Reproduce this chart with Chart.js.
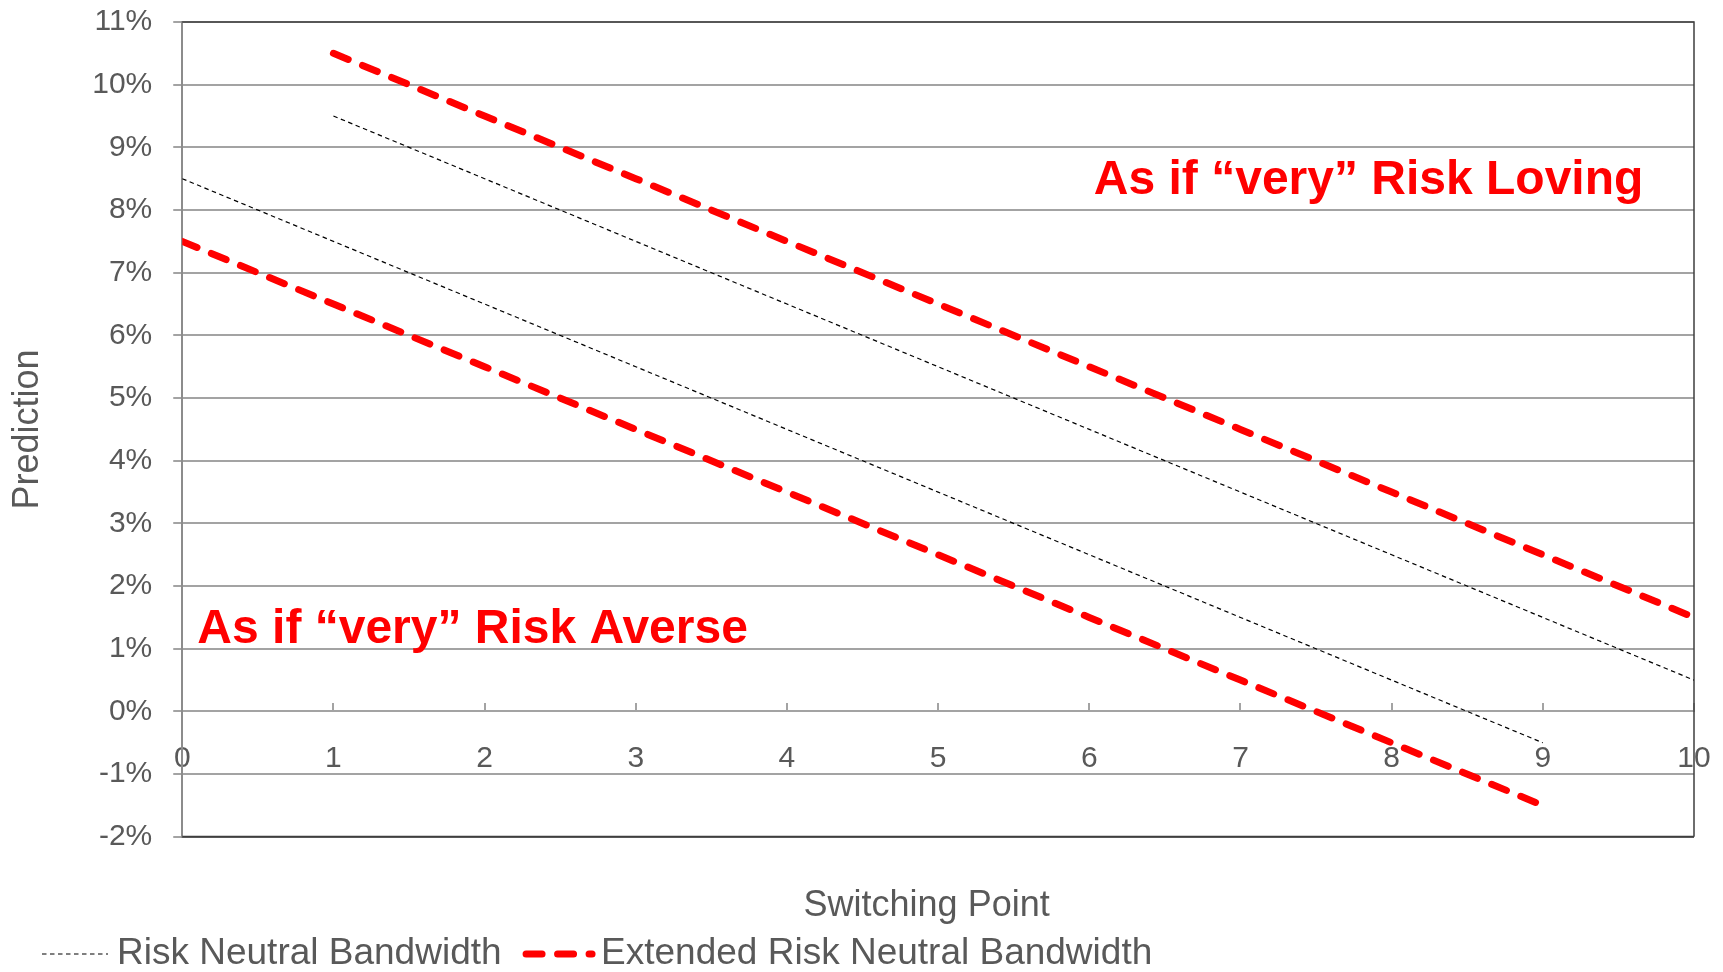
<!DOCTYPE html>
<html>
<head>
<meta charset="utf-8">
<script src="https://cdn.jsdelivr.net/npm/chart.js@4.4.1/dist/chart.umd.min.js"></script>
<style>
  html, body { margin: 0; padding: 0; background: #ffffff; }
  canvas { display: block; }
</style>
</head>
<body>
<canvas id="chart" width="1723" height="972"></canvas>
<script>
// Switching points on the x axis
const switchPoints = [0, 1, 2, 3, 4, 5, 6, 7, 8, 9, 10];

// Risk neutral band (prediction in %)
const neutralLowX  = [0, 1, 2, 3, 4, 5, 6, 7, 8, 9];
const neutralLow   = [8.5, 7.5, 6.5, 5.5, 4.5, 3.5, 2.5, 1.5, 0.5, -0.5];
const neutralHighX = [1, 2, 3, 4, 5, 6, 7, 8, 9, 10];
const neutralHigh  = [9.5, 8.5, 7.5, 6.5, 5.5, 4.5, 3.5, 2.5, 1.5, 0.5];

// Extended risk neutral band (prediction in %)
const extendedLowX  = [0, 1, 2, 3, 4, 5, 6, 7, 8, 9];
const extendedLow   = [7.5, 6.5, 5.5, 4.5, 3.5, 2.5, 1.5, 0.5, -0.5, -1.5];
const extendedHighX = [1, 2, 3, 4, 5, 6, 7, 8, 9, 10];
const extendedHigh  = [10.5, 9.5, 8.5, 7.5, 6.5, 5.5, 4.5, 3.5, 2.5, 1.5];

// Tick values for the prediction axis (%)
const yTickValues = [-2, -1, 0, 1, 2, 3, 4, 5, 6, 7, 8, 9, 10, 11];

const seriesNames = ['Risk Neutral Bandwidth', 'Extended Risk Neutral Bandwidth'];
const regionLabels = ['As if \u201Cvery\u201D Risk Loving', 'As if \u201Cvery\u201D Risk Averse'];
// Where each region label starts, in data units [switching point, prediction %]
const regionAnchors = [[6.03, 8.25], [0.1, 1.1]];

const FONT = "'Liberation Sans', Arial, Helvetica, sans-serif";
const TEXT = '#595959';
const GRID = '#a3a3a3';

const toPoints = (xs, ys) => xs.map((x, i) => ({ x: x, y: ys[i] }));

const thinStyle = {
  borderColor: '#000000', borderWidth: 1.2, borderDash: [4.5, 3.5], borderCapStyle: 'butt'
};
const thickStyle = {
  borderColor: '#ff0000', borderWidth: 7, borderDash: [16, 15.5], borderCapStyle: 'round'
};

// Dark frame on top, right and bottom of the plot area
const plotFrame = {
  id: 'plotFrame',
  afterLayout(chart) {
    // centre the x title over the plot plus the y-axis gutter
    chart.scales.xTitle.left -= 23;
  },
  beforeDatasetsDraw(chart) {
    const { ctx, chartArea: a } = chart;
    ctx.save();
    ctx.strokeStyle = '#3f3f3f';
    ctx.lineWidth = 1.5;
    ctx.beginPath();
    ctx.moveTo(a.left, a.top);
    ctx.lineTo(a.right, a.top);
    ctx.lineTo(a.right, a.bottom);
    ctx.stroke();
    ctx.lineWidth = 2;
    ctx.beginPath();
    ctx.moveTo(a.left, a.bottom);
    ctx.lineTo(a.right, a.bottom);
    ctx.stroke();
    ctx.restore();
  }
};

// Bold red labels naming the two regions
const regionText = {
  id: 'regionText',
  afterDatasetsDraw(chart) {
    const { ctx, scales } = chart;
    ctx.save();
    ctx.font = 'bold 48px ' + FONT;
    ctx.fillStyle = '#ff0000';
    ctx.textAlign = 'left';
    ctx.textBaseline = 'alphabetic';
    regionLabels.forEach((txt, i) => {
      const [vx, vy] = regionAnchors[i];
      ctx.fillText(txt, scales.x.getPixelForValue(vx), scales.y.getPixelForValue(vy));
    });
    ctx.restore();
  }
};

// Legend row under the axis title: one entry per series name
const bandLegend = {
  id: 'bandLegend',
  afterDraw(chart) {
    const { ctx } = chart;
    const seen = new Set();
    const items = chart.data.datasets.filter(d => {
      if (seen.has(d.label)) return false;
      seen.add(d.label);
      return true;
    });
    const y = chart.height - 18;
    const sampleLen = 66;
    let x = 42;
    ctx.save();
    ctx.font = '37px ' + FONT;
    ctx.textBaseline = 'middle';
    ctx.textAlign = 'left';
    items.forEach(ds => {
      const cap = ds.borderCapStyle === 'round' ? ds.borderWidth / 2 : 0;
      const x0 = x + cap;
      ctx.beginPath();
      ctx.setLineDash(ds.borderDash);
      ctx.lineDashOffset = 0;
      ctx.lineWidth = ds.borderWidth;
      ctx.strokeStyle = ds.borderColor;
      ctx.lineCap = ds.borderCapStyle;
      ctx.moveTo(x0, y);
      ctx.lineTo(x0 + sampleLen, y);
      ctx.stroke();
      ctx.setLineDash([]);
      ctx.fillStyle = TEXT;
      const tx = x0 + sampleLen + 9;
      ctx.fillText(ds.label, tx, y);
      x = tx + ctx.measureText(ds.label).width + 21;
    });
    ctx.restore();
  }
};

new Chart(document.getElementById('chart'), {
  type: 'line',
  data: {
    datasets: [
      { label: seriesNames[0], data: toPoints(neutralLowX, neutralLow), ...thinStyle },
      { label: seriesNames[0], data: toPoints(neutralHighX, neutralHigh), ...thinStyle },
      { label: seriesNames[1], data: toPoints(extendedLowX, extendedLow), ...thickStyle },
      { label: seriesNames[1], data: toPoints(extendedHighX, extendedHigh), ...thickStyle }
    ]
  },
  options: {
    responsive: false,
    animation: false,
    events: [],
    layout: { padding: { top: 22, right: 29, bottom: 44, left: 0 } },
    elements: {
      point: { radius: 0, hoverRadius: 0 },
      line: { tension: 0, fill: false }
    },
    plugins: {
      legend: { display: false },
      tooltip: { enabled: false }
    },
    scales: {
      x: {
        type: 'linear',
        position: { y: 0 },
        min: switchPoints[0],
        max: switchPoints[switchPoints.length - 1],
        afterBuildTicks(scale) { scale.ticks = switchPoints.map(v => ({ value: v })); },
        afterFit(scale) { scale.paddingLeft = 0; scale.paddingRight = 0; },
        grid: {
          display: true,
          drawOnChartArea: false,
          drawTicks: true,
          tickLength: -9,
          color: GRID,
          lineWidth: 2
        },
        border: { display: true, color: GRID, width: 2 },
        ticks: {
          padding: 38,
          color: TEXT,
          font: { family: FONT, size: 30 },
          maxRotation: 0,
          autoSkip: false
        }
      },
      xTitle: {
        type: 'linear',
        position: 'bottom',
        min: switchPoints[0],
        max: switchPoints[switchPoints.length - 1],
        grid: { display: false, drawTicks: false },
        border: { display: false },
        ticks: { display: false },
        title: {
          display: true,
          text: 'Switching Point',
          color: TEXT,
          font: { family: FONT, size: 36 },
          padding: { top: 48, bottom: 0 }
        }
      },
      y: {
        type: 'linear',
        position: 'left',
        min: yTickValues[0],
        max: yTickValues[yTickValues.length - 1],
        afterBuildTicks(scale) { scale.ticks = yTickValues.map(v => ({ value: v })); },
        afterFit(scale) { scale.paddingTop = 0; scale.paddingBottom = 0; },
        grid: {
          color: GRID,
          lineWidth: 2,
          tickLength: 9
        },
        border: { display: true, color: '#8c8c8c', width: 2 },
        ticks: {
          padding: 21,
          color: TEXT,
          font: { family: FONT, size: 30 },
          callback: v => v + '%'
        },
        title: {
          display: true,
          text: 'Prediction',
          color: TEXT,
          font: { family: FONT, size: 36 },
          padding: { top: 6, bottom: 22 }
        }
      }
    }
  },
  plugins: [plotFrame, regionText, bandLegend]
});
</script>
</body>
</html>
